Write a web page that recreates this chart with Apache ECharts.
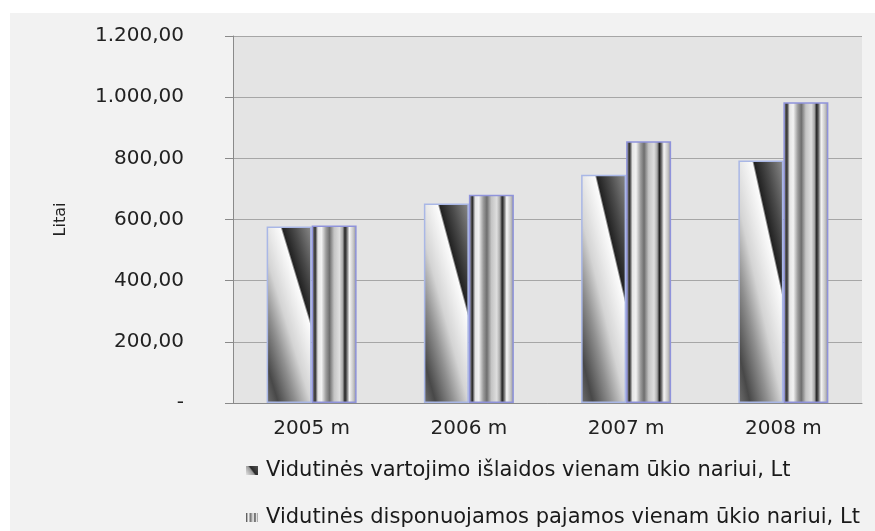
<!DOCTYPE html>
<html>
<head>
<meta charset="utf-8">
<script src="https://cdn.jsdelivr.net/npm/echarts@6/dist/echarts.min.js"></script>
<style>
  html, body { margin: 0; padding: 0; background: #ffffff; }
  #chart { width: 875px; height: 531px; }
</style>
</head>
<body>
<div id="chart"></div>
<script>
// values (Litai)
const categories = ['2005 m', '2006 m', '2007 m', '2008 m']
const spending = [577, 652, 746, 793]   // Vidutinės vartojimo išlaidos
const income   = [580, 681, 856, 983]   // Vidutinės disponuojamos pajamos
const yTicks = { min: 0, max: 1200, interval: 200 }
const seriesNames = [
  'Vidutinės vartojimo išlaidos vienam ūkio nariui, Lt',
  'Vidutinės disponuojamos pajamos vienam ūkio nariui, Lt',
]

const GRID = { left: 233, right: 13, top: 36, bottom: 128 }
const PLOT_H = 531 - GRID.top - GRID.bottom
const BAR_W = 45

// diagonal "texture" of the first series, stops along the diagonal
const diagStops = [
  { offset: 0,    color: '#707070' },
  { offset: 0.12, color: '#484848' },
  { offset: 0.3,  color: '#909090' },
  { offset: 0.45, color: '#d4d4d4' },
  { offset: 0.56, color: '#e8e8e8' },
  { offset: 0.68, color: '#fcfcfc' },
  { offset: 0.70, color: '#222222' },
  { offset: 0.82, color: '#4a4a4a' },
  { offset: 1,    color: '#8c8c8c' },
]
// vertical stripes of the second series
const stripeStops = [
  { offset: 0,    color: '#9a9a9a' },
  { offset: 0.08, color: '#2e2e2e' },
  { offset: 0.14, color: '#e4e4e4' },
  { offset: 0.22, color: '#f2f2f2' },
  { offset: 0.32, color: '#9c9c9c' },
  { offset: 0.4,  color: '#6e6e6e' },
  { offset: 0.5,  color: '#c4c4c4' },
  { offset: 0.62, color: '#dedede' },
  { offset: 0.69, color: '#a8a8a8' },
  { offset: 0.74, color: '#222222' },
  { offset: 0.78, color: '#666666' },
  { offset: 0.84, color: '#f6f6f6' },
  { offset: 0.93, color: '#c4c4c4' },
  { offset: 1,    color: '#8a8a8a' },
]

// the texture is stretched with the bar, so keep the band fixed in bar-fraction space
function diagGradient(w, h) {
  const gx = 0.57 / (1.25 * w), gy = -0.68 / (1.25 * h)
  const g2 = gx * gx + gy * gy
  return new echarts.graphic.LinearGradient(0, 1, (gx / g2) / w, 1 + (gy / g2) / h, diagStops)
}
const stripeGradient = new echarts.graphic.LinearGradient(0, 0, 1, 0, stripeStops)

function fmtLt(v) {
  if (v === 0) return '-'
  const [int, dec] = v.toFixed(2).split('.')
  return int.replace(/\B(?=(\d{3})+(?!\d))/g, '.') + ',' + dec
}

const legendBase = {
  orient: 'vertical', left: 241,
  itemWidth: 12, itemHeight: 9, icon: 'rect',
  textStyle: { fontSize: 21, color: '#1a1a1a', padding: [0, 0, 0, 3] },
}

const chart = echarts.init(document.getElementById('chart'), null, { renderer: 'canvas' })

chart.setOption({
  backgroundColor: '#ffffff',
  animation: false,
  textStyle: { fontFamily: 'DejaVu Sans' },
  graphic: [{
    type: 'rect', z: -10, silent: true,
    shape: { x: 10, y: 13, width: 865, height: 518 },
    style: { fill: '#f2f2f2' },
  }],
  grid: { ...GRID, show: true, backgroundColor: '#e4e4e4', borderWidth: 0 },
  legend: [
    {
      ...legendBase, top: 455, data: [seriesNames[0]],
      itemStyle: {
        borderWidth: 0,
        color: new echarts.graphic.LinearGradient(0, 1, 1, 0, [
          { offset: 0, color: '#e6e6e6' }, { offset: 0.45, color: '#9a9a9a' },
          { offset: 0.55, color: '#2a2a2a' }, { offset: 1, color: '#555555' },
        ]),
      },
    },
    { ...legendBase, top: 502, data: [seriesNames[1]], itemStyle: { borderWidth: 0 } },
  ],
  xAxis: {
    type: 'category', data: categories,
    axisLine: { lineStyle: { color: '#8a8a8a' } },
    axisTick: { length: 7, lineStyle: { color: '#8a8a8a' } },
    axisLabel: { fontSize: 20, color: '#222', margin: 16 },
  },
  yAxis: {
    type: 'value', ...yTicks,
    name: 'Litai', nameLocation: 'middle', nameRotate: 90, nameGap: 164,
    nameTextStyle: { fontSize: 16, color: '#222' },
    axisLine: { show: true, lineStyle: { color: '#8a8a8a' } },
    axisTick: { show: true, length: 8, lineStyle: { color: '#8a8a8a' } },
    axisLabel: { fontSize: 20, color: '#222', margin: 49, formatter: fmtLt },
    splitLine: { lineStyle: { color: '#a6a6a6', width: 1.2 } },
  },
  series: [{
    name: seriesNames[0], type: 'bar', barWidth: BAR_W, barGap: '0%',
    itemStyle: {
      color: new echarts.graphic.LinearGradient(0, 1, 1, 0, diagStops),
      borderColor: '#a9b7e6', borderWidth: 1.5,
    },
    data: spending.map((v) => ({
      value: v,
      itemStyle: { color: diagGradient(BAR_W, v / yTicks.max * PLOT_H) },
    })),
  }, {
    name: seriesNames[1], type: 'bar', barWidth: BAR_W, barGap: '0%',
    itemStyle: { color: stripeGradient, borderColor: '#8f93db', borderWidth: 1.5 },
    data: income,
  }],
})
</script>
</body>
</html>
